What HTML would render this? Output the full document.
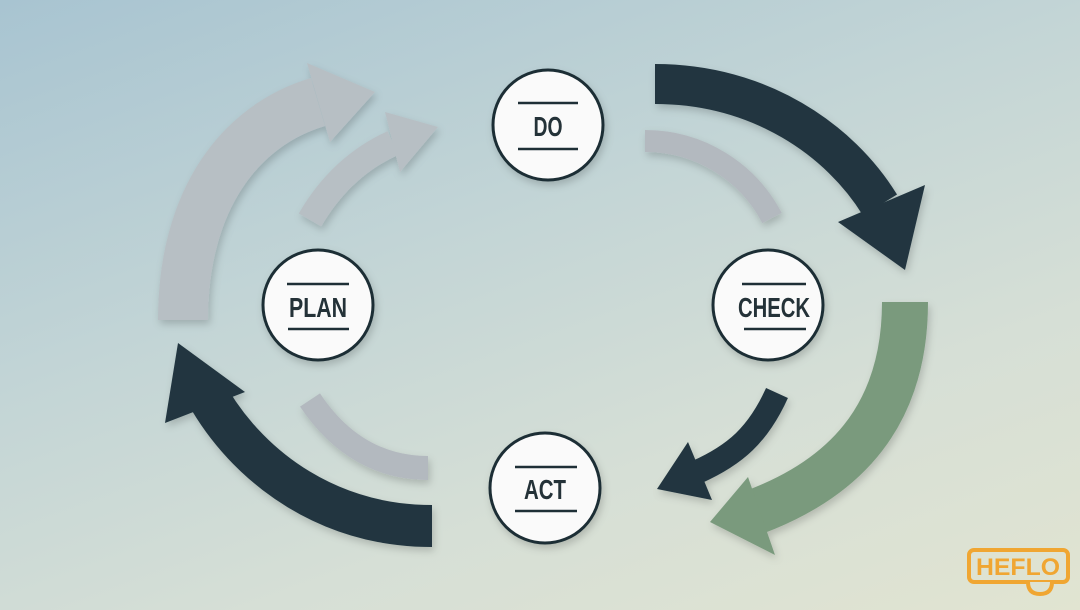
<!DOCTYPE html>
<html><head><meta charset="utf-8"><style>
html,body{margin:0;padding:0;width:1080px;height:610px;overflow:hidden}
body{background:linear-gradient(160deg,#a8c4d1 0%,#c3d5d6 40%,#d6dfd6 70%,#e1e4d1 100%)}
svg{position:absolute;left:0;top:0}
text{font-family:"Liberation Sans Narrow","Liberation Sans",sans-serif;font-weight:bold}
</style></head><body>
<svg width="1080" height="610" viewBox="0 0 1080 610">
<defs>
<filter id="sh" x="-20%" y="-20%" width="140%" height="140%"><feDropShadow dx="2" dy="4" stdDeviation="4" flood-color="#000" flood-opacity="0.18"/></filter>
</defs>
<g filter="url(#sh)">
<path d="M183,320 C183,200 240,125 318,102" stroke="#b7bfc4" stroke-width="50" fill="none"/>
<polygon points="307,63 375,92 330,142" fill="#b7bfc4"/>
<path d="M310,220 C332,182 360,158 393,143" stroke="#b7bfc4" stroke-width="26" fill="none"/>
<polygon points="385,112 438,127 400,172" fill="#b7bfc4"/>
<path d="M655,84 C760,84 840,140 880,205" stroke="#213640" stroke-width="40" fill="none"/>
<polygon points="838,222 905,270 925,185" fill="#213640"/>
<path d="M645,141 C700,141 748,172 772,218" stroke="#b3b9bf" stroke-width="22" fill="none"/>
<path d="M905,302 C905,420 840,480 755,512" stroke="#7a9a7d" stroke-width="46" fill="none"/>
<polygon points="748,477 710,522 775,555" fill="#7a9a7d"/>
<path d="M777,393 C758,435 735,455 697,472" stroke="#213640" stroke-width="24" fill="none"/>
<polygon points="688,442 657,489 712,500" fill="#213640"/>
<path d="M310,400 C340,445 380,468 428,468" stroke="#b3b9bf" stroke-width="24" fill="none"/>
<path d="M432,526 C330,526 252,470 210,400" stroke="#213640" stroke-width="42" fill="none"/>
<polygon points="178,343 165,423 245,392" fill="#213640"/>
</g>
<g filter="url(#sh)" fill="#fafafa" stroke="#1e2f36" stroke-width="3">
<circle cx="548" cy="125" r="55"/>
<circle cx="318" cy="305" r="55"/>
<circle cx="768" cy="305" r="55"/>
<circle cx="545" cy="488" r="55"/>
</g>
<g stroke="#1e2f36" stroke-width="2.5">
<line x1="518" y1="103" x2="578" y2="103"/><line x1="518" y1="149" x2="578" y2="149"/>
<line x1="287" y1="284" x2="349" y2="284"/><line x1="288" y1="329" x2="349" y2="329"/>
<line x1="742" y1="284" x2="806" y2="284"/><line x1="744" y1="329" x2="806" y2="329"/>
<line x1="515" y1="467" x2="577" y2="467"/><line x1="515" y1="511" x2="577" y2="511"/>
</g>
<g fill="#243238" font-size="28" text-anchor="middle">
<text x="548" y="136" textLength="29" lengthAdjust="spacingAndGlyphs">DO</text>
<text x="318" y="317" textLength="58" lengthAdjust="spacingAndGlyphs">PLAN</text>
<text x="774" y="317" textLength="72" lengthAdjust="spacingAndGlyphs">CHECK</text>
<text x="545" y="499" textLength="42" lengthAdjust="spacingAndGlyphs">ACT</text>
</g>
<g>
<rect x="969" y="550" width="99" height="32" rx="5" fill="none" stroke="#f0a632" stroke-width="4"/>
<path d="M1028,582 q0,12 12,12 q12,0 12,-12" fill="#dde2d2" stroke="#f0a632" stroke-width="4"/>
<text x="1018" y="575" font-size="24" fill="#f0a632" text-anchor="middle" font-family="Liberation Sans" textLength="84" lengthAdjust="spacingAndGlyphs">HEFLO</text>
</g>
</svg>
</body></html>
